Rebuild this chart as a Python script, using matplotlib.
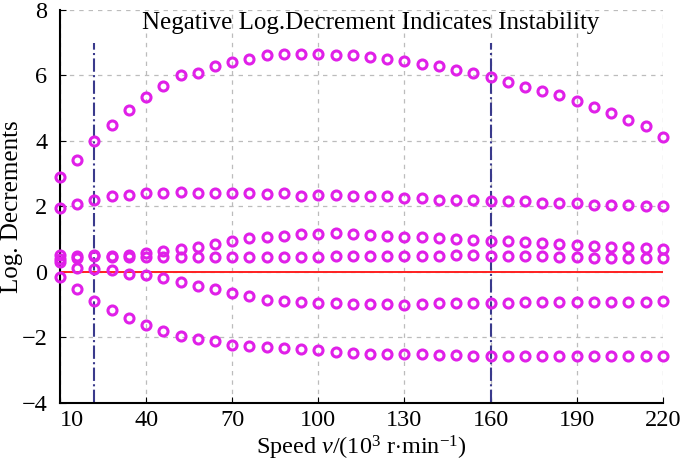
import numpy as np
import matplotlib
matplotlib.use("Agg")
import matplotlib.pyplot as plt

plt.rcParams['font.family'] = ['Liberation Serif', 'DejaVu Serif']
plt.rcParams['mathtext.fontset'] = 'custom'
plt.rcParams['mathtext.rm'] = 'Liberation Serif'
plt.rcParams['mathtext.it'] = 'Liberation Serif:italic'

# speed points (10^3 r/min)
speed = [10, 16, 22, 28, 34, 40, 46, 52, 58, 64, 70, 76, 82, 88, 94, 100, 106, 112,
         118, 124, 130, 136, 142, 148, 154, 160, 166, 172, 178, 184, 190, 196, 202, 208, 214, 220]

# log decrements of the six modes
mode1 = [2.90, 3.41, 4.01, 4.50, 4.94, 5.34, 5.68, 6.01, 6.09, 6.29, 6.41, 6.51, 6.61, 6.66, 6.66, 6.66, 6.64, 6.61,
         6.56, 6.51, 6.44, 6.36, 6.29, 6.18, 6.09, 5.96, 5.81, 5.66, 5.54, 5.41, 5.21, 5.04, 4.86, 4.64, 4.44, 4.11]
mode2 = [1.95, 2.07, 2.20, 2.32, 2.35, 2.40, 2.40, 2.45, 2.40, 2.40, 2.40, 2.40, 2.38, 2.40, 2.33, 2.35, 2.35, 2.31,
         2.31, 2.31, 2.25, 2.25, 2.20, 2.20, 2.20, 2.15, 2.15, 2.15, 2.10, 2.10, 2.10, 2.05, 2.05, 2.05, 2.00, 2.00]
mode3 = [0.50, 0.48, 0.52, 0.48, 0.50, 0.57, 0.63, 0.70, 0.76, 0.86, 0.95, 1.02, 1.07, 1.10, 1.14, 1.16, 1.17, 1.15,
         1.12, 1.10, 1.06, 1.05, 1.02, 1.00, 0.96, 0.95, 0.93, 0.90, 0.89, 0.85, 0.83, 0.80, 0.77, 0.75, 0.74, 0.70]
mode4 = [0.38, 0.43, 0.47, 0.45, 0.45, 0.44, 0.44, 0.44, 0.44, 0.44, 0.44, 0.44, 0.45, 0.45, 0.45, 0.45, 0.48, 0.48,
         0.48, 0.48, 0.48, 0.48, 0.48, 0.50, 0.50, 0.48, 0.47, 0.47, 0.47, 0.45, 0.45, 0.43, 0.43, 0.43, 0.43, 0.43]
mode5 = [0.30, 0.13, 0.09, 0.04, -0.07, -0.11, -0.20, -0.30, -0.43, -0.52, -0.64, -0.74, -0.85, -0.90, -0.93, -0.97, -0.97, -1.00,
         -1.00, -1.00, -1.03, -1.00, -0.95, -0.95, -0.97, -0.97, -0.97, -0.93, -0.93, -0.92, -0.92, -0.92, -0.92, -0.91, -0.91, -0.90]
mode6 = [-0.15, -0.53, -0.90, -1.17, -1.40, -1.63, -1.80, -1.95, -2.05, -2.13, -2.23, -2.27, -2.30, -2.33, -2.37, -2.40, -2.45, -2.47,
         -2.50, -2.50, -2.50, -2.50, -2.55, -2.55, -2.56, -2.57, -2.57, -2.57, -2.57, -2.57, -2.57, -2.57, -2.57, -2.57, -2.57, -2.57]

# marked speed limits
limits = [22, 160]
xticks = [10, 40, 70, 100, 130, 160, 190, 220]
yticks = [-4, -2, 0, 2, 4, 6, 8]

fig = plt.figure(figsize=(6.85, 4.66), dpi=100)
ax = fig.add_axes([0.0876, 0.136, 0.880, 0.8425])

ax.grid(True, color='#bcbcbc', linestyle=(0, (3.5, 4)), linewidth=0.9)
ax.set_axisbelow(True)

for m in [mode1, mode2, mode3, mode4, mode5, mode6]:
    ax.plot(speed, m, 'o', markersize=6.5, markerfacecolor='none',
            markeredgecolor='#e020e8', markeredgewidth=2.2, clip_on=False, zorder=3)

ax.axhline(0, color='#ff2020', linewidth=1.4, zorder=2)
for x in limits:
    ax.plot([x, x], [-4, 7], color='#3a3a8c', linestyle='-.', linewidth=1.5, zorder=2)

ax.set_xlim(10, 220)
ax.set_ylim(-4, 8)
ax.set_xticks(xticks)
ax.set_yticks(yticks)
ax.tick_params(direction='in', length=4, labelsize=17.5)
ax.tick_params(axis='x', pad=5)
ax.tick_params(axis='y', pad=9)
ax.get_xticklabels()[0].set_horizontalalignment('left')
ax.spines['top'].set_visible(False)
ax.spines['right'].set_visible(False)
ax.spines['left'].set_linewidth(1.5)
ax.spines['bottom'].set_linewidth(1.5)

ax.text(0.515, 0.995, 'Negative Log.Decrement Indicates Instability', transform=ax.transAxes,
        ha='center', va='top', fontsize=18)
ax.set_xlabel(r'Speed $v$/(10$^{3}$ r$\cdot$min$^{-1}$)', fontsize=17.5, labelpad=2)
ax.set_ylabel('Log. Decrements', fontsize=18)
ax.yaxis.set_label_coords(-0.062, 0.5)

fig.savefig('out.png', dpi=100)
